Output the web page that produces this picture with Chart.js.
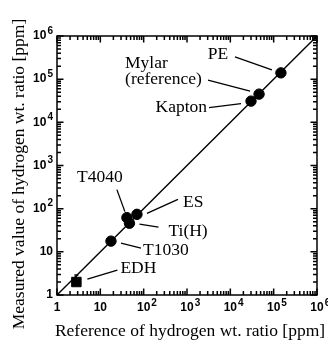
<!DOCTYPE html>
<html>
<head>
<meta charset="utf-8">
<script src="https://cdn.jsdelivr.net/npm/chart.js@4/dist/chart.umd.min.js"></script>
<style>
  html, body { margin: 0; padding: 0; background: #fff; }
  canvas { display: block; }
</style>
</head>
<body>
<canvas id="myChart" width="328" height="340"></canvas>
<script>
// samples: reference vs measured hydrogen wt. ratio [ppm]
const sampleNames = ['PE', 'Mylar', 'Kapton', 'T4040', 'Ti(H)', 'ES', 'T1030'];
const referenceRatio = [1.47e5, 4.6e4, 3.0e4, 41, 47, 70, 17.6];
const measuredRatio = [1.4e5, 4.5e4, 3.1e4, 62, 46, 74, 17.7];

// EDH has its own marker and an error bar
const edhReference = [2.8];
const edhMeasured = [2.0];
const edhUpper = [2.9];

// y = x guide line
const identityLine = [1, 1e6];

// axis ticks
const tickValues = [1, 10, 100, 1e3, 1e4, 1e5, 1e6];
const tickLabels = ['1', '10', '10\u00b2', '10\u00b3', '10\u2074', '10\u2075', '10\u2076'];

// label text + placement relative to each point (px)
const labelText = {
    'PE': ['PE'], 'Mylar': ['Mylar', '(reference)'], 'Kapton': ['Kapton'],
    'T4040': ['T4040'], 'Ti(H)': ['Ti(H)'], 'ES': ['ES'], 'T1030': ['T1030'], 'EDH': ['EDH']
};
const labelLayout = {
    'PE':     { tx: -63, ty: -18, align: 'center', lead: [-46, -16, -9, -3] },
    'Mylar':  { tx: -134, ty: -31, align: 'left', lead: [-51, -14, -9, -3] },
    'Kapton': { tx: -44, ty: 6.5, align: 'right', lead: [-42, 6.5, -10, 2.5] },
    'T4040':  { tx: -27, ty: -40, align: 'center', lead: [-10, -28, -2, -6] },
    'ES':     { tx: 46, ty: -12, align: 'left', lead: [10, -1, 41, -15] },
    'Ti(H)':  { tx: 39, ty: 8, align: 'left', lead: [10, 1, 29, 4] },
    'T1030':  { tx: 32, ty: 9, align: 'left', lead: [10, 2, 30, 7] },
    'EDH':    { tx: 44, ty: -14, align: 'left', lead: [11, -3, 41, -12] }
};

const serif = "'Liberation Serif', 'DejaVu Serif', serif";
const sans = "'Liberation Sans', Arial, sans-serif";
const supMap = { '\u00b2': '2', '\u00b3': '3', '\u2074': '4', '\u2075': '5', '\u2076': '6' };

// "10^n" tick label: base digits plus a raised exponent
function drawTickLabel(ctx, text, x, y, align) {
    const base = text.replace(/[\u00b2\u00b3\u2074-\u2079]/g, '');
    const exp = text.slice(base.length).split('').map(c => supMap[c]).join('');
    ctx.font = 'bold 12px ' + sans;
    const wb = ctx.measureText(base).width;
    ctx.font = 'bold 10px ' + sans;
    const we = exp ? ctx.measureText(exp).width + 1 : 0;
    let left = x;
    if (align === 'right') left = x - wb - we;
    else if (align === 'center') left = x - wb / 2;
    ctx.textAlign = 'left';
    ctx.textBaseline = 'middle';
    ctx.font = 'bold 12px ' + sans;
    ctx.fillText(base, left, y);
    if (exp) {
        ctx.font = 'bold 10px ' + sans;
        ctx.fillText(exp, left + wb + 1, y - 5);
    }
}

// inward ticks on all four sides (decades long, 2..9 short)
function drawTicks(ctx, a, xs, ys) {
    ctx.save();
    ctx.strokeStyle = '#000';
    ctx.lineWidth = 1.5;
    for (let i = 0; i < tickValues.length; i++) {
        const d = tickValues[i];
        const last = i === tickValues.length - 1;
        for (let k = 1; k <= (last ? 1 : 9); k++) {
            const v = d * k;
            const len = k === 1 ? 6.5 : 4;
            const px = xs.getPixelForValue(v);
            const py = ys.getPixelForValue(v);
            ctx.beginPath();
            ctx.moveTo(px, a.bottom);
            ctx.lineTo(px, a.bottom - len);
            ctx.moveTo(px, a.top);
            ctx.lineTo(px, a.top + len);
            ctx.moveTo(a.left, py);
            ctx.lineTo(a.left + len, py);
            ctx.moveTo(a.right, py);
            ctx.lineTo(a.right - len, py);
            ctx.stroke();
        }
    }
    ctx.restore();
}

// frame, ticks, labels with leaders, axis titles
const decorations = {
    id: 'decorations',
    afterDraw(chart) {
        const ctx = chart.ctx;
        const a = chart.chartArea;
        const xs = chart.scales.x, ys = chart.scales.y;

        drawTicks(ctx, a, xs, ys);

        ctx.save();
        ctx.strokeStyle = '#000';
        ctx.fillStyle = '#000';

        // frame
        ctx.lineWidth = 1.5;
        ctx.strokeRect(a.left, a.top, a.right - a.left, a.bottom - a.top);

        // tick labels
        tickValues.forEach((v, i) => {
            drawTickLabel(ctx, tickLabels[i], xs.getPixelForValue(v), a.bottom + 13, 'center');
            drawTickLabel(ctx, tickLabels[i], a.left - 4, ys.getPixelForValue(v), 'right');
        });

        // EDH error bar
        ctx.lineWidth = 1.5;
        edhReference.forEach((r, i) => {
            const px = xs.getPixelForValue(r);
            ctx.beginPath();
            ctx.moveTo(px, ys.getPixelForValue(edhMeasured[i]));
            ctx.lineTo(px, ys.getPixelForValue(edhUpper[i]));
            ctx.moveTo(px - 2, ys.getPixelForValue(edhUpper[i]));
            ctx.lineTo(px + 2, ys.getPixelForValue(edhUpper[i]));
            ctx.stroke();
        });

        // point labels
        const names = sampleNames.concat(['EDH']);
        const refs = referenceRatio.concat(edhReference);
        const meas = measuredRatio.concat(edhMeasured);
        ctx.font = '17.5px ' + serif;
        ctx.textBaseline = 'middle';
        ctx.lineWidth = 1.3;
        names.forEach((n, i) => {
            const lay = labelLayout[n];
            const px = xs.getPixelForValue(refs[i]);
            const py = ys.getPixelForValue(meas[i]);
            ctx.textAlign = lay.align;
            labelText[n].forEach((line, k) => {
                ctx.fillText(line, px + lay.tx, py + lay.ty + k * 16);
            });
            const l = lay.lead;
            ctx.beginPath();
            ctx.moveTo(px + l[0], py + l[1]);
            ctx.lineTo(px + l[2], py + l[3]);
            ctx.stroke();
        });

        // axis titles
        ctx.font = '17.5px ' + serif;
        ctx.textAlign = 'center';
        ctx.fillText('Reference of hydrogen wt. ratio [ppm]', 190, 331);
        ctx.translate(19, 174);
        ctx.rotate(-Math.PI / 2);
        ctx.fillText('Measured value of hydrogen wt. ratio [ppm]', 0, 0);
        ctx.restore();
    }
};

const config = {
    type: 'scatter',
    data: {
        datasets: [{
            data: identityLine.map(v => ({ x: v, y: v })),
            showLine: true,
            pointRadius: 0,
            borderColor: '#000',
            borderWidth: 1.4
        }, {
            data: referenceRatio.map((r, i) => ({ x: r, y: measuredRatio[i] })),
            pointRadius: 5.2,
            backgroundColor: '#000',
            borderColor: '#000'
        }, {
            data: edhReference.map((r, i) => ({ x: r, y: edhMeasured[i] })),
            pointStyle: 'rect',
            pointRadius: 6.7,
            backgroundColor: '#000',
            borderColor: '#000'
        }]
    },
    options: {
        responsive: false,
        animation: false,
        layout: { padding: { left: 0, top: 36, right: 11, bottom: 0 } },
        plugins: { legend: { display: false }, tooltip: { enabled: false } },
        scales: {
            x: {
                type: 'logarithmic',
                min: 1, max: 1e6,
                grid: { display: false },
                border: { display: false },
                ticks: { display: false },
                afterFit(s) { s.height = 45; }
            },
            y: {
                type: 'logarithmic',
                min: 1, max: 1e6,
                grid: { display: false },
                border: { display: false },
                ticks: { display: false },
                afterFit(s) { s.width = 57; }
            }
        }
    },
    plugins: [decorations]
};

const myChart = new Chart(document.getElementById('myChart'), config);
</script>
</body>
</html>
